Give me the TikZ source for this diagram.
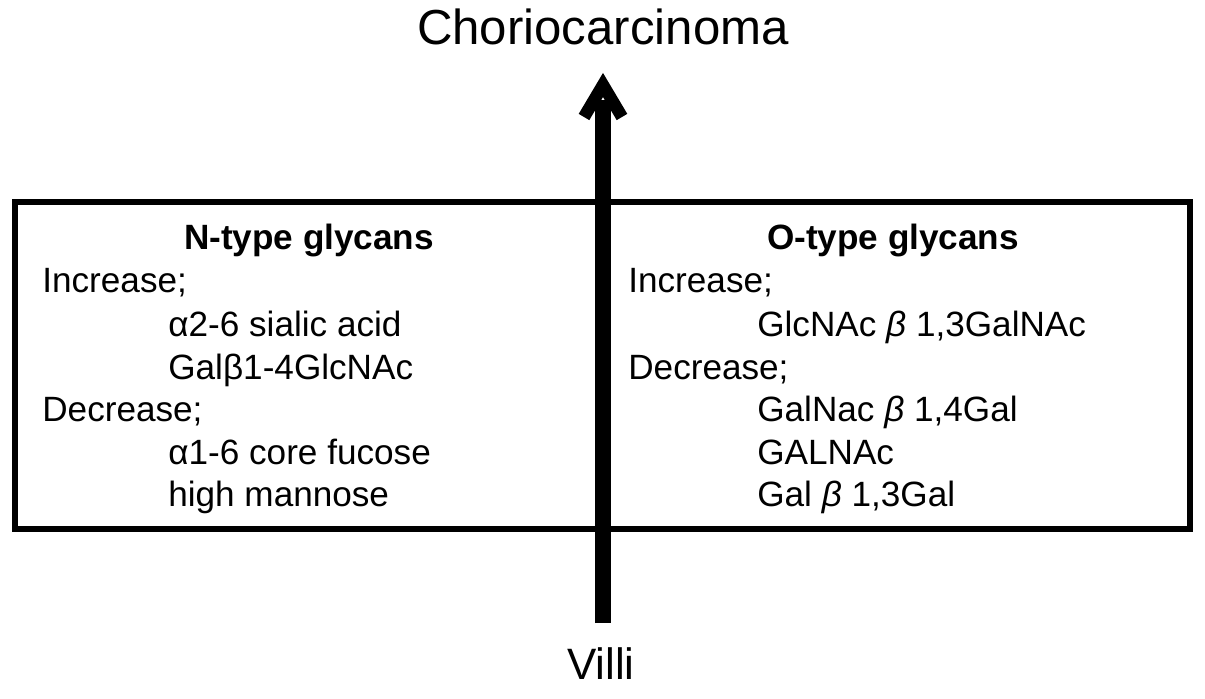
\documentclass[tikz,border=0pt]{standalone}
\usepackage{fontspec}
\setmainfont{Liberation Sans}
\usetikzlibrary{positioning}

\begin{document}
\begin{tikzpicture}[x=0.02cm,y=-0.02cm,
      t/.style={anchor=base west,inner sep=0pt,font=\fontsize{20}{24}\selectfont},
      hd/.style={t,anchor=base,font=\fontsize{20}{24}\selectfont\bfseries},
      big/.style={anchor=base,inner sep=0pt,font=\fontsize{28}{34}\selectfont},
      frame/.style={draw,line width=3.4pt},
      a/.style={line width=9.6pt},
      head/.style={line width=7pt,line join=miter}]
      \useasboundingbox (0,0) rectangle (1205,699);
      \node[big] (chorio) at (603,45) {Choriocarcinoma};
      \node[big,font=\fontsize{25}{30}\selectfont] (villi) at (601,679) {Villi};
      \draw[frame] (15,202) rectangle (1190,529);
      % N-type column
      \node[hd] (nh) at (309,250) {N-type glycans};
      \node[t] (ninc) at (42,293) {Increase;};
      \node[t] (n1) at (168,337) {α2-6 sialic acid};
      \node[t] (n2) at (168,380) {Galβ1-4GlcNAc};
      \node[t] (ndec) at (42,422) {Decrease;};
      \node[t] (n3) at (168,465) {α1-6 core fucose};
      \node[t] (n4) at (168,507) {high mannose};
      % O-type column
      \node[hd] (oh) at (893,250) {O-type glycans};
      \node[t] (oinc) at (628,293) {Increase;};
      \node[t] (o1) at (757,337) {GlcNAc {\itshape β} 1,3GalNAc};
      \node[t] (odec) at (628,380) {Decrease;};
      \node[t] (o2) at (757,422) {GalNac {\itshape β} 1,4Gal};
      \node[t] (o3) at (757,465) {GALNAc};
      \node[t] (o4) at (757,507) {Gal {\itshape β} 1,3Gal};
      % arrow
      \coordinate (base) at (603,623);
      \coordinate (top) at (603,100);
      \coordinate (tip) at (603,85);
      \draw[a] (base) -- (top);
      \draw[head] (tip) ++(-19,32) -- (tip) -- ++(19,32);
    \end{tikzpicture}
\end{document}
